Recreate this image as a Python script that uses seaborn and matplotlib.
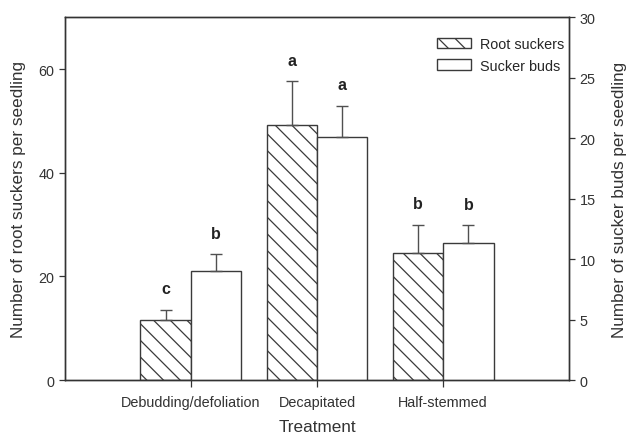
import matplotlib
matplotlib.use("Agg")
import matplotlib.pyplot as plt
import seaborn as sns
import pandas as pd
import numpy as np
from matplotlib.patches import Patch

# Treatment means and standard errors
treatments = ["Debudding/defoliation", "Decapitated", "Half-stemmed"]
root_suckers = [11.6, 49.2, 24.6]
root_suckers_se = [2.0, 8.5, 5.4]
sucker_buds = [9.0, 20.1, 11.3]
sucker_buds_se = [1.4, 2.6, 1.5]
root_letters = ["c", "a", "b"]
bud_letters = ["b", "a", "b"]
series = ["Root suckers", "Sucker buds"]

sns.set_style("ticks")
plt.rcParams["font.family"] = ["Liberation Sans", "DejaVu Sans"]
plt.rcParams["hatch.color"] = "#333333"
plt.rcParams["hatch.linewidth"] = 0.9

ink = "#333333"
edge = "#3a3a3a"

df_root = pd.DataFrame({"Treatment": treatments, "Series": series[0], "Value": root_suckers})
df_buds = pd.DataFrame({"Treatment": treatments, "Series": series[1], "Value": sucker_buds})

fig, ax1 = plt.subplots(figsize=(6.29, 4.39), dpi=100)
fig.subplots_adjust(left=0.103, right=0.905, top=0.958, bottom=0.132)
ax2 = ax1.twinx()

sns.barplot(data=df_root, x="Treatment", y="Value", hue="Series", hue_order=series,
            order=treatments, dodge=True, errorbar=None, width=0.8,
            palette=["white", "white"], edgecolor=edge, linewidth=1.0,
            legend=False, ax=ax1)
sns.barplot(data=df_buds, x="Treatment", y="Value", hue="Series", hue_order=series,
            order=treatments, dodge=True, errorbar=None, width=0.8,
            palette=["white", "white"], edgecolor=edge, linewidth=1.0,
            legend=False, ax=ax2)

root_bars = sorted([p for p in ax1.patches if p.get_height() > 0], key=lambda p: p.get_x())
bud_bars = sorted([p for p in ax2.patches if p.get_height() > 0], key=lambda p: p.get_x())
for p in root_bars:
    p.set_hatch("\\\\")

def add_errors(ax, bars, vals, se, letters):
    xs = [p.get_x() + p.get_width() / 2 for p in bars]
    ax.errorbar(xs, vals, yerr=[np.zeros(len(se)), se], fmt="none",
                ecolor="#505050", elinewidth=1.0, capsize=4, capthick=1.0, zorder=1)
    for x, v, s, t in zip(xs, vals, se, letters):
        ax.annotate(t, (x, v + s), xytext=(0, 15), textcoords="offset points",
                    ha="center", va="center", fontsize=11.5, fontweight="bold", color="#222222")

add_errors(ax1, root_bars, root_suckers, root_suckers_se, root_letters)
add_errors(ax2, bud_bars, sucker_buds, sucker_buds_se, bud_letters)

ax1.set_xlim(-1, 3)
ax2.set_xlim(-1, 3)
ax1.set_ylim(0, 70)
ax2.set_ylim(0, 30)
ax1.set_yticks([0, 20, 40, 60])
ax2.set_yticks([0, 5, 10, 15, 20, 25, 30])

ax1.set_xlabel("Treatment", fontsize=12.3, color=ink, labelpad=7)
ax1.set_ylabel("Number of root suckers per seedling", fontsize=12.3, color=ink, labelpad=9)
ax2.set_ylabel("Number of sucker buds per seedling", fontsize=12.3, color=ink, labelpad=12)

for ax in (ax1, ax2):
    for s in ax.spines.values():
        s.set_visible(True)
        s.set_color(ink)
        s.set_linewidth(1.0)
    ax.tick_params(colors=ink, labelcolor=ink, labelsize=10.4, length=4, width=0.9)
ax1.tick_params(axis="x", length=5, pad=6)
ax2.set_xticks(ax1.get_xticks())

handles = [Patch(facecolor="white", edgecolor=edge, hatch="\\\\", label=series[0]),
           Patch(facecolor="white", edgecolor=edge, label=series[1])]
ax2.legend(handles=handles, loc="upper right", frameon=False, fontsize=10.4,
           handlelength=2.4, handleheight=0.7, handletextpad=0.6, labelspacing=0.55,
           bbox_to_anchor=(1.01, 0.975), borderaxespad=0.3)

fig.savefig("out.png", dpi=100)
